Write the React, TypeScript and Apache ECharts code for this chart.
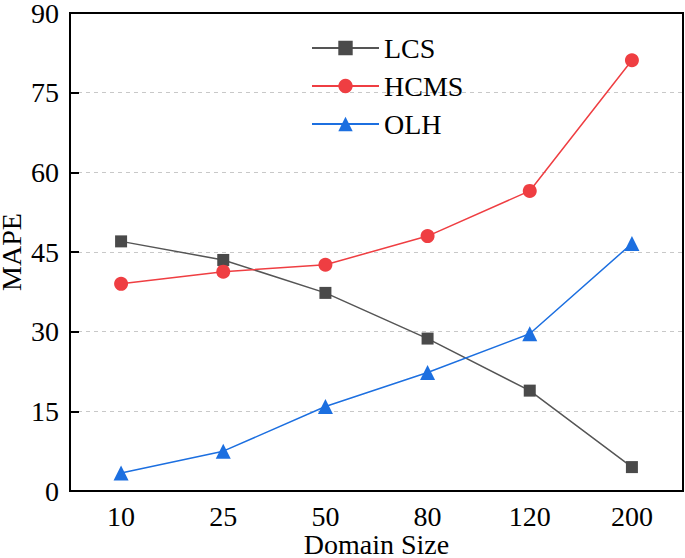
import React, { useEffect, useRef } from "react";
import * as echarts from "echarts";

const categories = ["10", "25", "50", "80", "120", "200"];
const lcs = [47.0, 43.5, 37.3, 28.7, 18.9, 4.5];
const hcms = [39.0, 41.3, 42.6, 48.0, 56.5, 81.1];
const olh = [3.4, 7.5, 15.9, 22.3, 29.6, 46.6];

const FONT = "Liberation Serif";

export default function App() {
  const ref = useRef<HTMLDivElement>(null);
  useEffect(() => {
    document.body.style.margin = "0";
    const chart = echarts.init(ref.current!, null, { renderer: "svg" });
    chart.setOption({
      animation: false,
      backgroundColor: "#fff",
      textStyle: { fontFamily: FONT },
      grid: {
        left: 70,
        right: 2,
        top: 13,
        bottom: 67,
        show: true,
        borderColor: "#000",
        borderWidth: 2,
        containLabel: false,
        outerBoundsMode: "none",
      },
      legend: {
        orient: "vertical",
        left: 306,
        top: 29,
        itemWidth: 67,
        itemHeight: 18,
        itemGap: 10,
        textStyle: { fontFamily: FONT, fontSize: 28, color: "#000" },
        data: ["LCS", "HCMS", "OLH"],
      },
      xAxis: {
        type: "category",
        data: categories,
        boundaryGap: true,
        name: "Domain Size",
        nameLocation: "middle",
        nameGap: 40,
        nameMoveOverlap: false,
        nameTextStyle: { fontFamily: FONT, fontSize: 28, color: "#000", lineHeight: 26 },
        axisLine: { lineStyle: { color: "#000", width: 2 } },
        axisTick: { inside: true, length: 9, alignWithLabel: true, lineStyle: { color: "#000", width: 2 } },
        axisLabel: { fontFamily: FONT, fontSize: 28, color: "#000", margin: 11 },
        splitLine: { show: false },
      },
      yAxis: {
        type: "value",
        min: 0,
        max: 90,
        interval: 15,
        name: "MAPE",
        nameLocation: "middle",
        nameGap: 46,
        nameMoveOverlap: false,
        nameTextStyle: { fontFamily: FONT, fontSize: 28, color: "#000", lineHeight: 26 },
        axisLine: { show: true, lineStyle: { color: "#000", width: 2 } },
        axisTick: { show: true, inside: true, length: 9, lineStyle: { color: "#000", width: 2 } },
        axisLabel: { fontFamily: FONT, fontSize: 28, color: "#000", margin: 11, lineHeight: 26 },
        splitLine: {
          show: true,
          showMinLine: false,
          showMaxLine: false,
          lineStyle: { color: "#c8c8c8", type: [4, 4], width: 1 },
        },
      },
      series: [
        {
          name: "LCS",
          type: "line",
          data: lcs,
          symbol: "rect",
          symbolSize: 12,
          itemStyle: { color: "#4a4a4a" },
          lineStyle: { color: "#555", width: 1.5 },
        },
        {
          name: "HCMS",
          type: "line",
          data: hcms,
          symbol: "circle",
          symbolSize: 14,
          itemStyle: { color: "#ef3e42" },
          lineStyle: { color: "#ef3e42", width: 1.5 },
        },
        {
          name: "OLH",
          type: "line",
          data: olh,
          symbol: "triangle",
          symbolSize: 15,
          itemStyle: { color: "#1c6fe0" },
          lineStyle: { color: "#1c6fe0", width: 1.5 },
        },
      ],
    });
    return () => chart.dispose();
  }, []);
  return <div ref={ref} style={{ width: 685, height: 558 }} />;
}
